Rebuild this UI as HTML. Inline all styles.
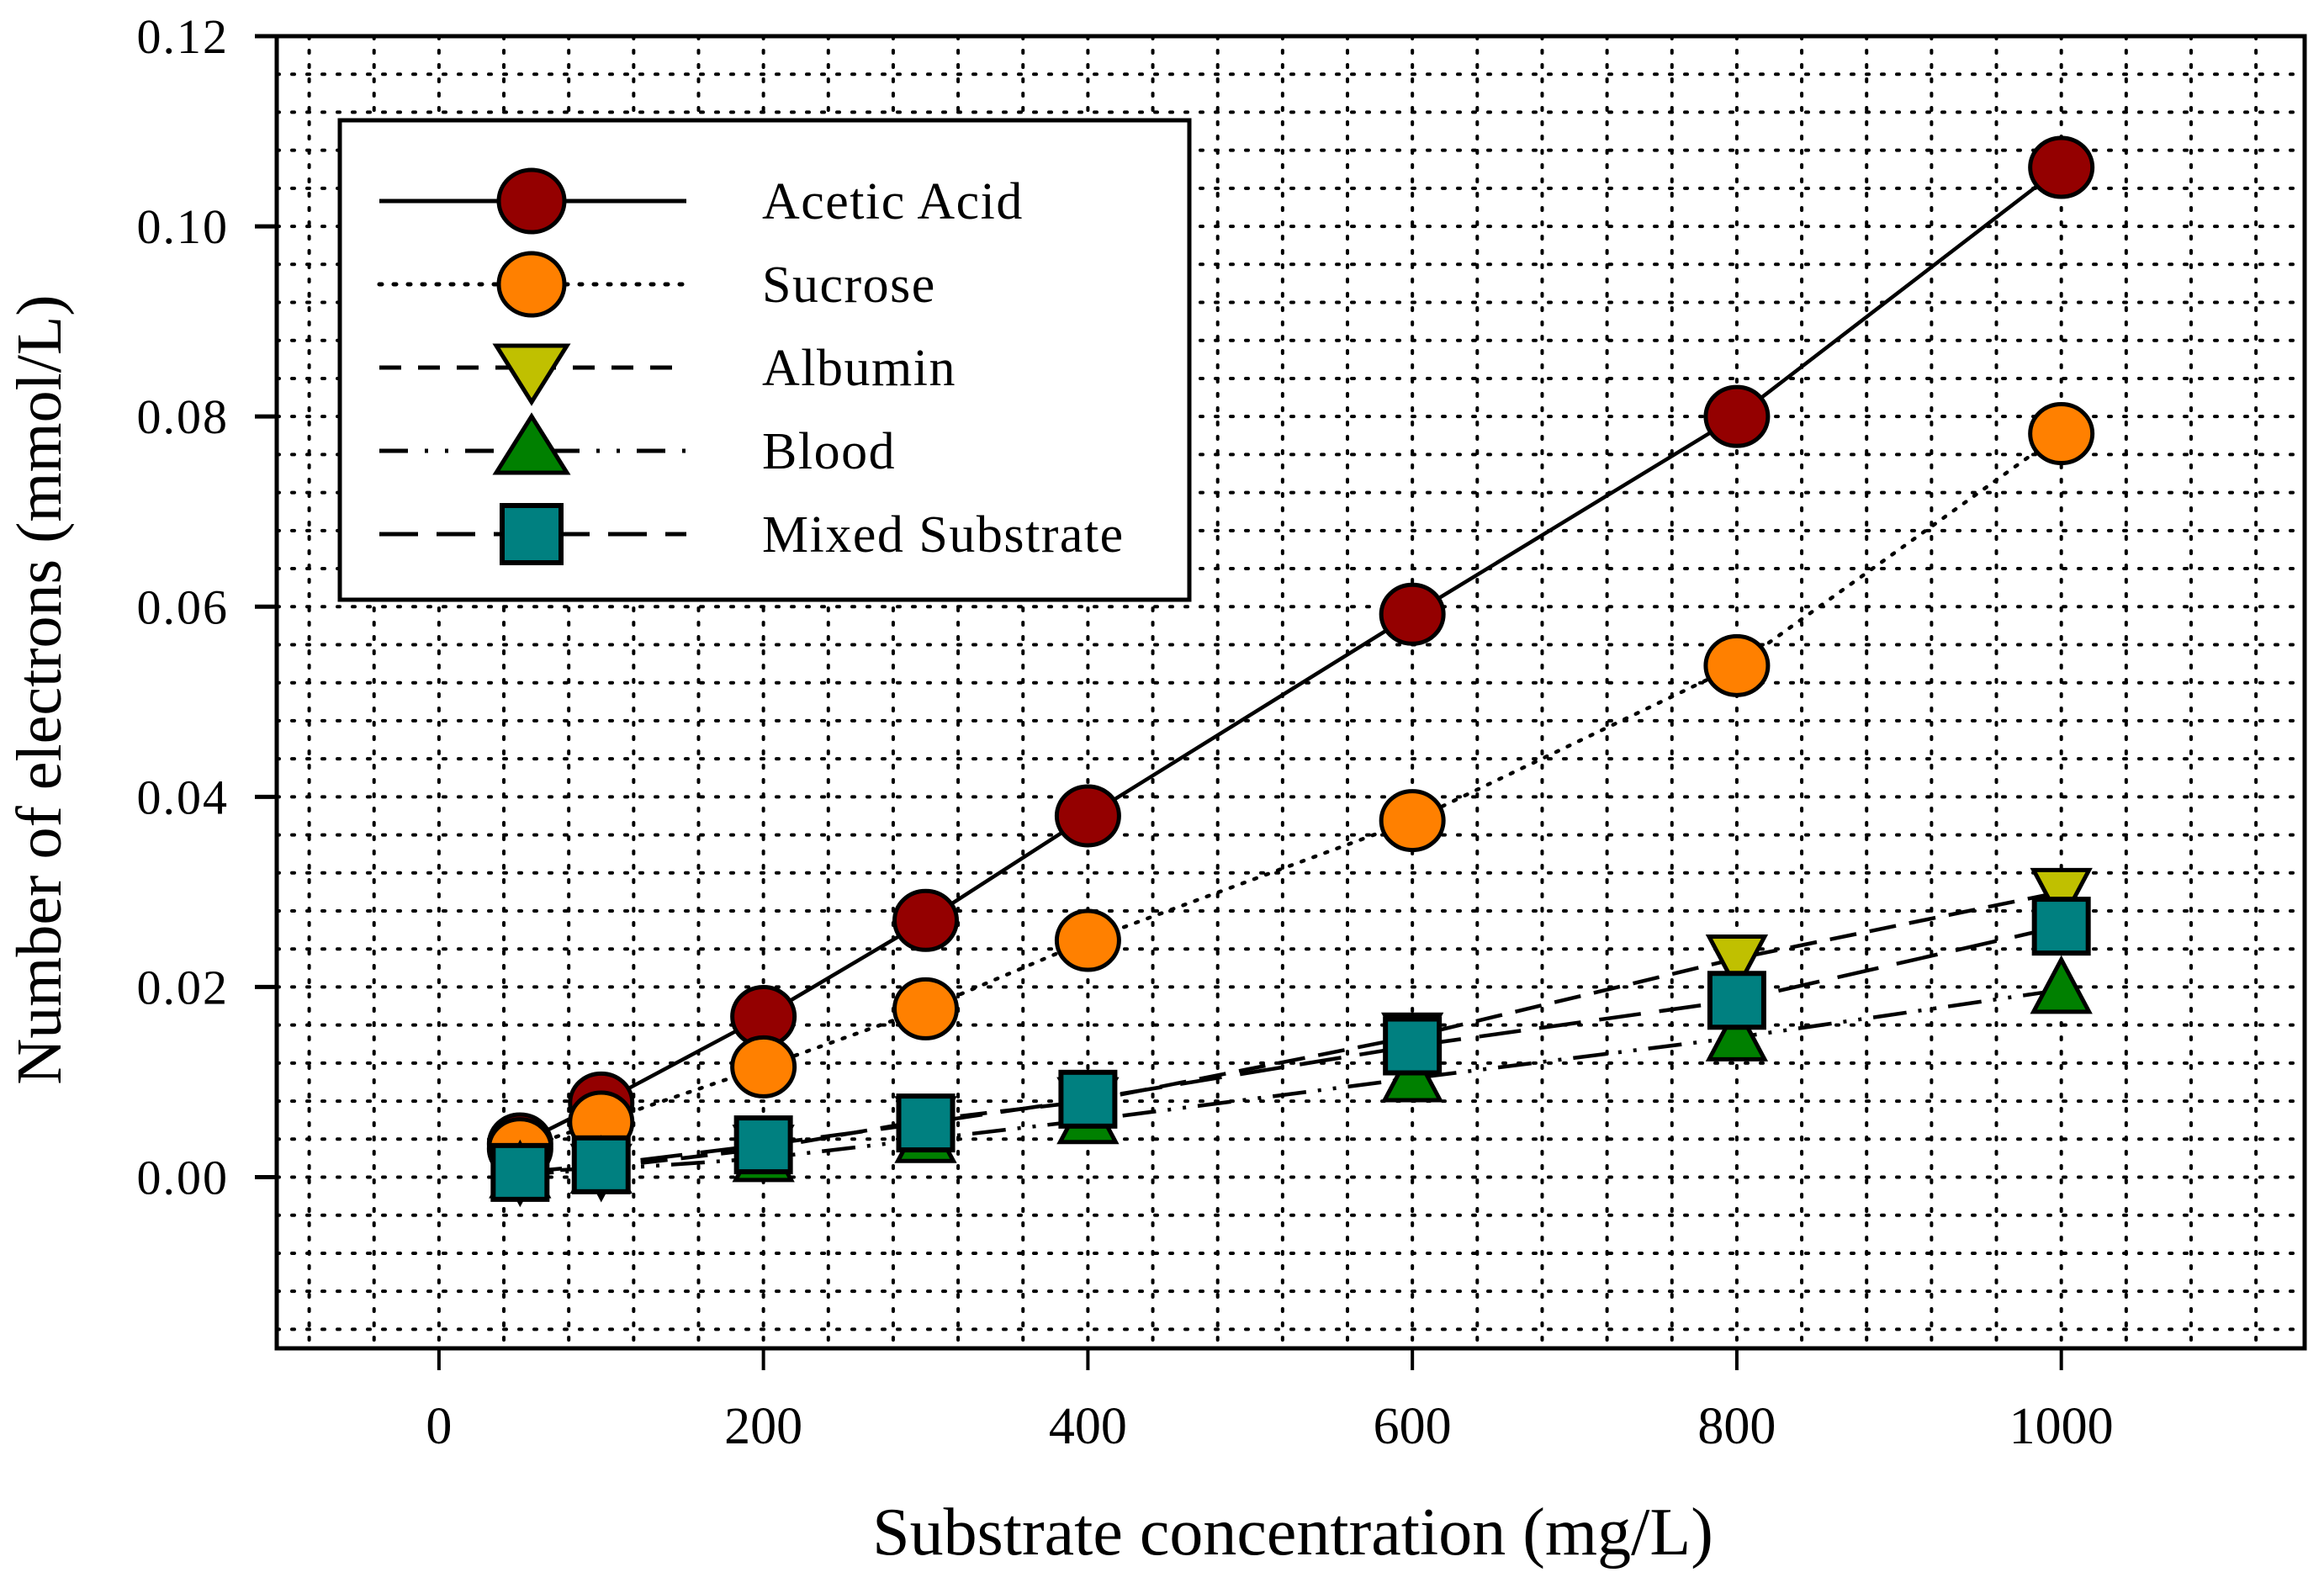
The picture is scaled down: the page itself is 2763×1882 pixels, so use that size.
<!DOCTYPE html>
<html><head><meta charset="utf-8"><style>
html,body{margin:0;padding:0;background:#fff}
svg{display:block}
text{font-family:"Liberation Serif",serif;fill:#000}
</style></head><body>
<svg id="chart" width="2763" height="1882" viewBox="0 0 2763 1882" xmlns="http://www.w3.org/2000/svg">
<g id="grid"></g>
<g id="series"></g>
<g id="axes"></g>
<g id="legend"></g>
<text x="1537" y="1848" font-size="80" text-anchor="middle">Substrate concentration (mg/L)</text>
<text transform="translate(72,820) rotate(-90)" font-size="76" text-anchor="middle">Number of electrons (mmol/L)</text>
</svg>
<script>
const xs = [50, 100, 200, 300, 400, 600, 800, 1000];
const aceticVals = [0.0035, 0.0078, 0.0169, 0.027, 0.038, 0.0592, 0.080, 0.1062];
const sucroseVals = [0.003, 0.0058, 0.0116, 0.0177, 0.0249, 0.0375, 0.0538, 0.0782];
const albuminVals = [0.0005, 0.001, 0.003, 0.006, 0.008, 0.0148, 0.023, 0.030];
const bloodVals = [0.0003, 0.0008, 0.002, 0.004, 0.006, 0.0104, 0.0147, 0.0197];
const mixedVals = [0.0005, 0.0013, 0.0034, 0.0057, 0.0082, 0.0138, 0.0186, 0.0264];
const xTicks = [0, 200, 400, 600, 800, 1000];
const yTicks = [0, 0.02, 0.04, 0.06, 0.08, 0.10, 0.12];
const yTickLabels = ["0.00","0.02","0.04","0.06","0.08","0.10","0.12"];
const seriesNames = ["Acetic Acid","Sucrose","Albumin","Blood","Mixed Substrate"];

const NS="http://www.w3.org/2000/svg";
const L=329,R=2740,T=43,B=1603;
const xMin=-100,xMax=1150,yMin=-0.018,yMax=0.12;
function sx(v){return L+(v-xMin)/(xMax-xMin)*(R-L);}
function sy(v){return B-(v-yMin)/(yMax-yMin)*(B-T);}
function mk(tag,attrs,parent){const e=document.createElementNS(NS,tag);for(const k in attrs)e.setAttribute(k,attrs[k]);parent.appendChild(e);return e;}

const grid=document.getElementById('grid');
for(let v=-80;v<=1140;v+=40){
  const g=mk('line',{x1:sx(v),x2:sx(v),y1:T,y2:B,stroke:'#000','stroke-width':4,'stroke-dasharray':'3 14','stroke-linecap':'round'},grid);
  
  
}
for(let i=-4;i<=29;i++){
  const v=i*0.004;
  if(v>yMax+1e-9||v<yMin) continue;
  const g=mk('line',{x1:L,x2:R,y1:sy(v),y2:sy(v),stroke:'#000','stroke-width':4,'stroke-dasharray':'3 15','stroke-linecap':'round'},grid);
  
  
}

const series=[
 {vals:aceticVals,color:'#940000',shape:'circle',dash:'none',name:'acetic-acid'},
 {vals:sucroseVals,color:'#FF8000',shape:'circle',dash:'3 12',name:'sucrose'},
 {vals:albuminVals,color:'#C0C000',shape:'down',dash:'32 16',name:'albumin'},
 {vals:bloodVals,color:'#008000',shape:'up',dash:'40 14 4 14 4 14',name:'blood'},
 {vals:mixedVals,color:'#008080',shape:'square',dash:'50 22',name:'mixed-substrate'}
];
function marker(shape,x,y,color,parent){
  let e;
  if(shape==='circle') e=mk('ellipse',{cx:x,cy:y,rx:37,ry:35,fill:color,stroke:'#000','stroke-width':5},parent);
  else if(shape==='square') e=mk('rect',{x:x-32,y:y-32,width:64,height:64,fill:color,stroke:'#000','stroke-width':6},parent);
  else if(shape==='down') e=mk('polygon',{points:`${x-33},${y-26} ${x+33},${y-26} ${x},${y+36}`,fill:color,stroke:'#000','stroke-width':5},parent);
  else e=mk('polygon',{points:`${x-33},${y+26} ${x+33},${y+26} ${x},${y-36}`,fill:color,stroke:'#000','stroke-width':5},parent);
  return e;
}
const sg=document.getElementById('series');
series.forEach(s=>{
  const pts=xs.map((x,i)=>sx(x)+','+sy(s.vals[i])).join(' ');
  const pl=mk('polyline',{points:pts,fill:'none',stroke:'#000','stroke-width':4.5,'stroke-dasharray':s.dash,'stroke-linecap':s.dash==='3 12'?'round':'butt'},sg);
  
  
});
series.forEach(s=>{
  xs.forEach((x,i)=>{
    const m=marker(s.shape,sx(x),sy(s.vals[i]),s.color,sg);
    
    
  });
});

const ax=document.getElementById('axes');
const frame=mk('rect',{x:L,y:T,width:R-L,height:B-T,fill:'none',stroke:'#000','stroke-width':5},ax);


xTicks.forEach(v=>{
  const t=mk('line',{x1:sx(v),x2:sx(v),y1:B,y2:B+26,stroke:'#000','stroke-width':4},ax);
  
  
  const lb=mk('text',{x:sx(v),y:1716,'font-size':62,'text-anchor':'middle'},ax);
  lb.textContent=String(v);
  
  
});
yTicks.forEach((v,i)=>{
  const t=mk('line',{x1:L-26,x2:L,y1:sy(v),y2:sy(v),stroke:'#000','stroke-width':5},ax);
  
  
  const lb=mk('text',{x:272,y:sy(v)+20,'font-size':58,'text-anchor':'end','letter-spacing':'2'},ax);
  lb.textContent=yTickLabels[i];
  
  
});

const lg=document.getElementById('legend');
const box=mk('rect',{x:404,y:143,width:1010,height:570,fill:'#fff',stroke:'#000','stroke-width':5},lg);


const rowY=[239,338,437,536,635];
const legendDash=['none','3 14','26 20','34 20 4 20 4 20','46 22'];
const mx=632;
series.forEach((s,i)=>{
  const y=rowY[i];
  const ln=mk('line',{x1:451,x2:816,y1:y,y2:y,stroke:'#000','stroke-width':5,'stroke-dasharray':legendDash[i],'stroke-linecap':legendDash[i]==='3 14'?'round':'butt'},lg);
  
  
  let m;
  if(s.shape==='circle') m=mk('ellipse',{cx:mx,cy:y,rx:39,ry:37,fill:s.color,stroke:'#000','stroke-width':5},lg);
  else if(s.shape==='square') m=mk('rect',{x:mx-35,y:y-34,width:70,height:68,fill:s.color,stroke:'#000','stroke-width':6},lg);
  else if(s.shape==='down') m=mk('polygon',{points:`${mx-42},${y-26} ${mx+42},${y-26} ${mx},${y+41}`,fill:s.color,stroke:'#000','stroke-width':5},lg);
  else m=mk('polygon',{points:`${mx-42},${y+26} ${mx+42},${y+26} ${mx},${y-41}`,fill:s.color,stroke:'#000','stroke-width':5},lg);
  
  
  const tx=mk('text',{x:906,y:y+21,'font-size':62,'letter-spacing':'1.5'},lg);
  tx.textContent=seriesNames[i];
  
  
});
</script>
</body></html>
